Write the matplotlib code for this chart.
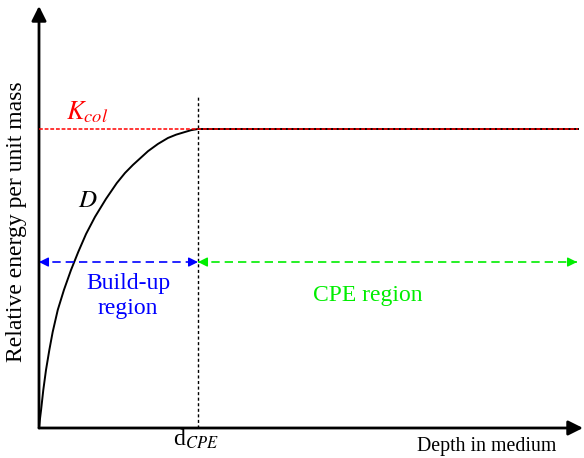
import matplotlib
matplotlib.use("Agg")
import matplotlib.pyplot as plt

# Dose curve D (depth in units of d_CPE, energy in units of K_col)
depth = [0.0, 0.006, 0.013, 0.027, 0.044, 0.065, 0.086, 0.118, 0.157, 0.201,
         0.247, 0.296, 0.352, 0.421, 0.489, 0.541, 0.591, 0.686, 0.748, 0.811,
         0.862, 0.918, 0.956, 1.0, 3.39]
dose = [0.0, 0.030, 0.060, 0.127, 0.194, 0.261, 0.321, 0.395, 0.462, 0.528,
        0.589, 0.649, 0.706, 0.766, 0.819, 0.853, 0.880, 0.926, 0.950, 0.970,
        0.981, 0.990, 0.996, 1.0, 1.0]
k_col = 1.0
d_cpe = 1.0
x_end = 3.39
arrow_level = 0.555

plt.rcParams['font.family'] = ['Liberation Serif', 'DejaVu Serif']
plt.rcParams['mathtext.fontset'] = 'stix'

W, H = 584, 458
fig = plt.figure(figsize=(W / 100, H / 100), dpi=100)
px_x0, px_y0 = 39, 428
sx, sy = 159.0, 299.0
ax = fig.add_axes([px_x0 / W, (H - px_y0) / H, (W - px_x0) / W, px_y0 / H])
ax.set_xlim(0, (W - px_x0) / sx)
ax.set_ylim(0, px_y0 / sy)
ax.axis('off')

# axes with arrows
ax.annotate('', xy=(0, (px_y0 - 6) / sy), xytext=(0, 0),
            arrowprops=dict(arrowstyle='-|>', color='black', lw=2.0,
                            mutation_scale=22, shrinkA=0, shrinkB=0))
ax.annotate('', xy=((583 - px_x0) / sx, 0), xytext=(0, 0),
            arrowprops=dict(arrowstyle='-|>', color='black', lw=2.0,
                            mutation_scale=22, shrinkA=0, shrinkB=0))

# K_col line
ax.plot([0, x_end], [k_col, k_col], color='red', lw=1.1, ls=(0, (2.5, 1.2)), zorder=3)
# dose curve
ax.plot(depth, dose, color='black', lw=1.4, zorder=2, solid_joinstyle='round')
# d_CPE vertical dotted line
ax.plot([d_cpe, d_cpe], [0, 1.11], color='black', lw=1.0, ls=(0, (2.2, 1.8)), zorder=1)

# region arrows
def dashed_double(x0, x1, y, color):
    ax.plot([x0, x1], [y, y], color=color, lw=1.2, ls=(0, (5, 3)))
    for tip, back in ((x0, x0 + 0.05), (x1, x1 - 0.05)):
        ax.annotate('', xy=(tip, y), xytext=(back, y),
                    arrowprops=dict(arrowstyle='-|>', color=color, lw=1.0,
                                    mutation_scale=14, shrinkA=0, shrinkB=0))

dashed_double(0.0, d_cpe, arrow_level, 'blue')
dashed_double(d_cpe, (577 - px_x0) / sx, arrow_level, '#00ee00')

# texts
ax.text((128 - px_x0) / sx, (px_y0 - 296) / sy, 'Build-up\nregion', color='blue',
        fontsize=17, ha='center', va='center', linespacing=1.2)
ax.text((368 - px_x0) / sx, (px_y0 - 296) / sy, 'CPE region', color='#00ee00',
        fontsize=17, ha='center', va='center')
ax.text((66 - px_x0) / sx, (px_y0 - 112) / sy, r'$K_{col}$', color='red',
        fontsize=19, ha='left', va='center')
ax.text((88 - px_x0) / sx, (px_y0 - 201) / sy, r'$D$', color='black',
        fontsize=18, ha='center', va='center')
ax.text((196 - px_x0) / sx, (px_y0 - 439) / sy, r'd$_{CPE}$', color='black',
        fontsize=17, ha='center', va='center', clip_on=False)
fig.text(487 / W, 1 - 446 / H, 'Depth in medium', fontsize=14.3,
         ha='center', va='center')
fig.text(17 / W, 1 - 222 / H, 'Relative energy per unit mass', fontsize=17,
         ha='center', va='center', rotation=90)

fig.savefig('out.png', dpi=100)
